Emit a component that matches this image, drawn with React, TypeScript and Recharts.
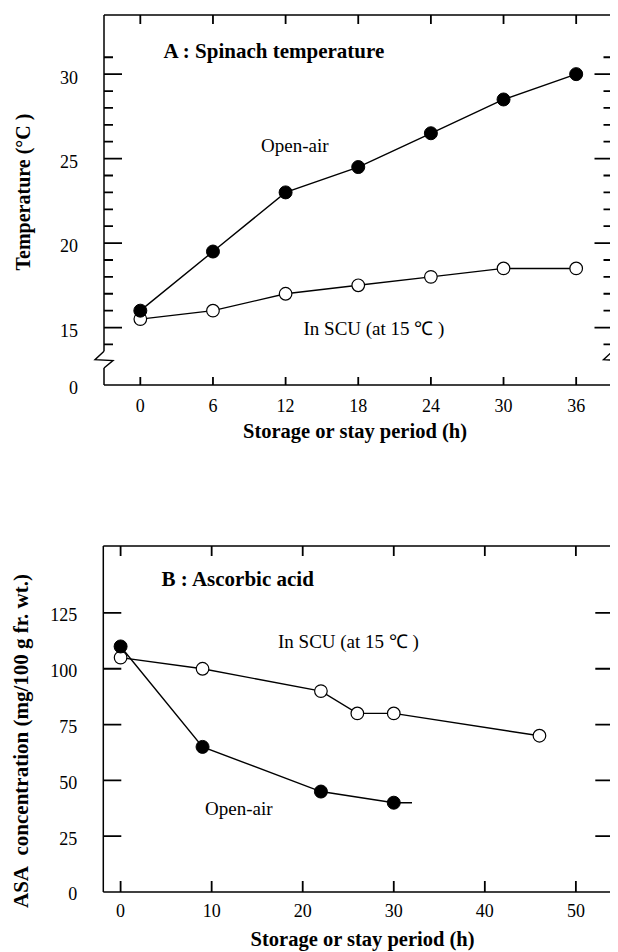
import React from 'react';
import { LineChart, Line, XAxis, YAxis, ReferenceDot, ReferenceLine } from 'recharts';

const SERIF = '"Liberation Serif", "Times New Roman", Times, serif';

// ---------- Panel A : Spinach temperature ----------
const hoursA = [0, 6, 12, 18, 24, 30, 36];
const openAirA = [16.0, 19.5, 23.0, 24.5, 26.5, 28.5, 30.0];
const scuA = [15.5, 16.0, 17.0, 17.5, 18.0, 18.5, 18.5];
const xTicksA = [0, 6, 12, 18, 24, 30, 36];
const xDomainA: [number, number] = [-3, 39];
const yDomainA: [number, number] = [11.6, 33.5];
const yMajorA = [15, 20, 25, 30];
const yMinorA = [14, 16, 17, 18, 19, 21, 22, 23, 24, 26, 27, 28, 29, 31];
const yBaseA = 11.6; // bottom of the broken axis
const yBaseLabelA = '0';
const yBreakA = 13.1;
const yBreakHalfA = 0.5;

// ---------- Panel B : Ascorbic acid ----------
const scuHoursB = [0, 9, 22, 26, 30, 46];
const scuB = [105, 100, 90, 80, 80, 70];
const openAirHoursB = [0, 9, 22, 30];
const openAirB = [110, 65, 45, 40];
const openAirTailB = { x: 32, y: 40 };
const xTicksB = [0, 10, 20, 30, 40, 50];
const xDomainB: [number, number] = [-1.9, 54];
const yDomainB: [number, number] = [0, 155];
const yMajorB = [25, 50, 75, 100, 125];
const yBaseB = 0;

const AXIS = { stroke: '#000', strokeWidth: 1.5 };
const TICKFONT = { fontSize: 18, fontFamily: SERIF, fill: '#000' };

const BreakMark = ({ cx, cy, h }: any) => (
  <path
    d={`M${cx},${cy - h} L${cx - 9},${cy} L${cx + 9},${cy + 1} L${cx},${cy + h}`}
    fill="none"
    stroke="#000"
    strokeWidth={1.4}
  />
);

const bold = { fontFamily: SERIF, fontWeight: 700 as const, fill: '#000' };
const regular = { fontFamily: SERIF, fill: '#000' };

type Layout = { W: number; H: number; mTop: number; mRight: number; mLeft: number; mBottom: number; yAxisW: number; xAxisH: number; topAxisH: number };

function plotBox(l: Layout) {
  const left = l.mLeft + l.yAxisW;
  const right = l.W - l.mRight;
  const top = l.mTop + l.topAxisH;
  const bottom = l.H - l.mBottom - l.xAxisH;
  return { left, right, top, bottom, w: right - left, h: bottom - top };
}

type TickSpec = {
  xTicks: number[];
  yTicks: { v: number; major: boolean }[];
  xDom: [number, number];
  yDom: [number, number];
  xLenBottom: number;
  xLenTop: number;
  yMajorLen: number;
  yMinorLen: number;
  yMajorLenRight: number;
};

type Pt = { x: number; y: number | null };

// inward tick marks as one broken polyline in data units
function tickPath(lay: Layout, s: TickSpec): Pt[] {
  const box = plotBox(lay);
  const ux = (s.xDom[1] - s.xDom[0]) / box.w;
  const uy = (s.yDom[1] - s.yDom[0]) / box.h;
  const pts: Pt[] = [];
  const seg = (a: Pt, b: Pt) => pts.push(a, b, { x: b.x, y: null });
  s.xTicks.forEach((v) => {
    seg({ x: v, y: s.yDom[0] }, { x: v, y: s.yDom[0] + s.xLenBottom * uy });
    seg({ x: v, y: s.yDom[1] }, { x: v, y: s.yDom[1] - s.xLenTop * uy });
  });
  s.yTicks.forEach(({ v, major }) => {
    const lenL = major ? s.yMajorLen : s.yMinorLen;
    const lenR = major ? s.yMajorLenRight : s.yMinorLen;
    if (lenL > 0) seg({ x: s.xDom[0], y: v }, { x: s.xDom[0] + lenL * ux, y: v });
    if (lenR > 0) seg({ x: s.xDom[1], y: v }, { x: s.xDom[1] - lenR * ux, y: v });
  });
  return pts;
}

const layA: Layout = { W: 610, H: 445, mTop: 6, mRight: 5.5, mLeft: 36, mBottom: 38, yAxisW: 60, xAxisH: 30, topAxisH: 1 };
const layB: Layout = { W: 610, H: 499, mTop: 92, mRight: 5.7, mLeft: 35.3, mBottom: 30, yAxisW: 60, xAxisH: 30, topAxisH: 1 };

const specA: TickSpec = {
  xTicks: xTicksA,
  yTicks: [...yMajorA.map((v) => ({ v, major: true })), ...yMinorA.map((v) => ({ v, major: false }))],
  xDom: xDomainA,
  yDom: yDomainA,
  xLenBottom: 8,
  xLenTop: 9,
  yMajorLen: 18,
  yMinorLen: 9,
  yMajorLenRight: 18,
};

const specB: TickSpec = {
  xTicks: xTicksB,
  yTicks: yMajorB.map((v) => ({ v, major: true })),
  xDom: xDomainB,
  yDom: yDomainB,
  xLenBottom: 11,
  xLenTop: 10,
  yMajorLen: 18,
  yMinorLen: 0,
  yMajorLenRight: 17,
};

function PanelA() {
  const scu = hoursA.map((x, i) => ({ x, y: scuA[i] }));
  const open = hoursA.map((x, i) => ({ x, y: openAirA[i] }));
  const leftTicks = [yBaseA, ...yMajorA];
  const ticks = tickPath(layA, specA);
  const lo = yBreakA - yBreakHalfA;
  const hi = yBreakA + yBreakHalfA;
  const L = layA;
  return (
    <div style={{ position: 'relative', width: L.W, height: L.H }}>
      <LineChart width={L.W} height={L.H} margin={{ top: L.mTop, right: L.mRight, left: L.mLeft, bottom: L.mBottom }}>
        <XAxis
          xAxisId="b" dataKey="x" type="number" domain={xDomainA} ticks={xTicksA} interval={0}
          height={L.xAxisH} tickSize={0} tickMargin={14} tickLine={false} axisLine={AXIS} tick={TICKFONT}
        />
        <XAxis
          xAxisId="t" orientation="top" dataKey="x" type="number" domain={xDomainA} ticks={xTicksA} interval={0}
          height={L.topAxisH} tickLine={false} axisLine={AXIS} tick={false}
        />
        <YAxis
          yAxisId="l" type="number" domain={yDomainA} ticks={leftTicks} interval={0}
          width={L.yAxisW} tickSize={0} tickMargin={26} tickLine={false} axisLine={false}
          tick={{ ...TICKFONT, dy: 3 }}
          tickFormatter={(v: number) => (v === yBaseA ? yBaseLabelA : String(v))}
        />
        {[xDomainA[0], xDomainA[1]].map((xv) => [
          <ReferenceLine key={`lo${xv}`} xAxisId="b" yAxisId="l" ifOverflow="visible" stroke="#000" strokeWidth={1.5}
            segment={[{ x: xv, y: yDomainA[0] }, { x: xv, y: lo }]} />,
          <ReferenceLine key={`hi${xv}`} xAxisId="b" yAxisId="l" ifOverflow="visible" stroke="#000" strokeWidth={1.5}
            segment={[{ x: xv, y: hi }, { x: xv, y: yDomainA[1] }]} />,
        ])}
        <Line
          xAxisId="b" yAxisId="l" data={ticks} dataKey="y" type="linear" stroke="#000" strokeWidth={1.8}
          dot={false} activeDot={false} isAnimationActive={false} legendType="none"
        />
        <Line
          xAxisId="b" yAxisId="l" data={scu} dataKey="y" type="linear" stroke="#000" strokeWidth={1.4}
          dot={{ r: 6.3, fill: '#fff', stroke: '#000', strokeWidth: 1.2 }} activeDot={false} isAnimationActive={false}
        />
        <Line
          xAxisId="b" yAxisId="l" data={open} dataKey="y" type="linear" stroke="#000" strokeWidth={1.4}
          dot={{ r: 6.5, fill: '#000', stroke: '#000', strokeWidth: 1 }} activeDot={false} isAnimationActive={false}
        />
        <ReferenceDot xAxisId="b" yAxisId="l" x={xDomainA[0]} y={yBreakA} r={0} ifOverflow="visible"
          shape={(p: any) => <BreakMark cx={p.cx} cy={p.cy} h={8.4} />} />
        <ReferenceDot xAxisId="b" yAxisId="l" x={xDomainA[1]} y={yBreakA} r={0} ifOverflow="visible"
          shape={(p: any) => <BreakMark cx={p.cx} cy={p.cy} h={8.4} />} />
      </LineChart>
      <svg width={L.W} height={L.H} style={{ position: 'absolute', left: 0, top: 0, pointerEvents: 'none' }}>
        <text x={155.6} y={50} fontSize={21} {...bold}>A : Spinach temperature</text>
        <text x={253} y={144} fontSize={19} {...regular}>Open-air</text>
        <text x={295.5} y={326.5} fontSize={19} {...regular}>In SCU (at 15 ℃ )</text>
        <text transform="translate(15,184) rotate(-90)" textAnchor="middle" dominantBaseline="central" fontSize={20} {...bold}>
          Temperature (°C )
        </text>
        <text x={347} y={430} textAnchor="middle" fontSize={20.5} {...bold}>Storage or stay period (h)</text>
      </svg>
    </div>
  );
}

function PanelB() {
  const scu = scuHoursB.map((x, i) => ({ x, y: scuB[i] }));
  const open = [...openAirHoursB.map((x, i) => ({ x, y: openAirB[i] })), openAirTailB];
  const leftTicks = [yBaseB, ...yMajorB];
  const ticks = tickPath(layB, specB);
  const L = layB;
  return (
    <div style={{ position: 'relative', width: L.W, height: L.H }}>
      <LineChart width={L.W} height={L.H} margin={{ top: L.mTop, right: L.mRight, left: L.mLeft, bottom: L.mBottom }}>
        <XAxis
          xAxisId="b" dataKey="x" type="number" domain={xDomainB} ticks={xTicksB} interval={0}
          height={L.xAxisH} tickSize={0} tickMargin={12} tickLine={false} axisLine={AXIS} tick={TICKFONT}
        />
        <XAxis
          xAxisId="t" orientation="top" dataKey="x" type="number" domain={xDomainB} ticks={xTicksB} interval={0}
          height={L.topAxisH} tickLine={false} axisLine={AXIS} tick={false}
        />
        <YAxis
          yAxisId="l" type="number" domain={yDomainB} ticks={leftTicks} interval={0}
          width={L.yAxisW} tickSize={0} tickMargin={26} tickLine={false} axisLine={false}
          tick={{ ...TICKFONT, dy: 2 }}
        />
        {[xDomainB[0], xDomainB[1]].map((xv) => (
          <ReferenceLine key={`v${xv}`} xAxisId="b" yAxisId="l" ifOverflow="visible" stroke="#000" strokeWidth={1.5}
            segment={[{ x: xv, y: yDomainB[0] }, { x: xv, y: yDomainB[1] }]} />
        ))}
        <Line
          xAxisId="b" yAxisId="l" data={ticks} dataKey="y" type="linear" stroke="#000" strokeWidth={1.8}
          dot={false} activeDot={false} isAnimationActive={false} legendType="none"
        />
        <Line
          xAxisId="b" yAxisId="l" data={scu} dataKey="y" type="linear" stroke="#000" strokeWidth={1.4}
          dot={{ r: 6.3, fill: '#fff', stroke: '#000', strokeWidth: 1.2 }} activeDot={false} isAnimationActive={false}
        />
        <Line
          xAxisId="b" yAxisId="l" data={open} dataKey="y" type="linear" stroke="#000" strokeWidth={1.4}
          dot={(p: any) =>
            p.index < openAirHoursB.length ? (
              <circle key={`d${p.index}`} cx={p.cx} cy={p.cy} r={6.5} fill="#000" stroke="#000" strokeWidth={1} />
            ) : (
              <g key={`d${p.index}`} />
            )
          }
          activeDot={false} isAnimationActive={false}
        />
      </LineChart>
      <svg width={L.W} height={L.H} style={{ position: 'absolute', left: 0, top: 0, pointerEvents: 'none' }}>
        <text x={153.6} y={132.5} fontSize={21} {...bold}>B : Ascorbic acid</text>
        <text x={270} y={195} fontSize={19} {...regular}>In SCU (at 15 ℃ )</text>
        <text x={197} y={362} fontSize={19} {...regular}>Open-air</text>
        <text transform="translate(13,288) rotate(-90)" textAnchor="middle" dominantBaseline="central" fontSize={21} {...bold}>
          {'ASA\u00a0\u00a0concentration (mg/100 g fr. wt.)'}
        </text>
        <text x={354.6} y={493} textAnchor="middle" fontSize={20.5} {...bold}>Storage or stay period (h)</text>
      </svg>
    </div>
  );
}

export default function App() {
  return (
    <div style={{ width: 610, background: '#fff' }}>
      <PanelA />
      <PanelB />
    </div>
  );
}
